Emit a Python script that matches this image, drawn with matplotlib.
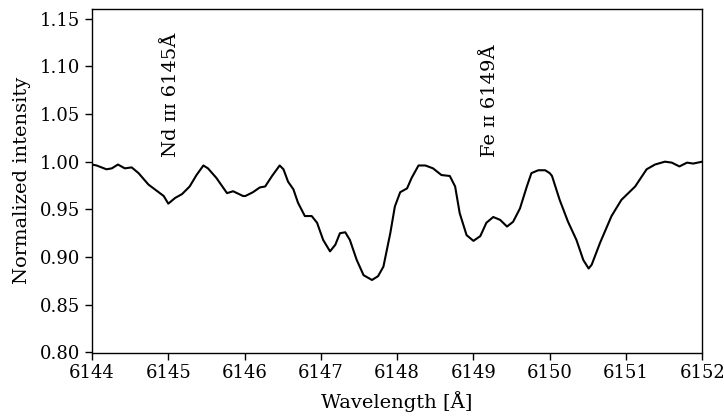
import numpy as np
import matplotlib
matplotlib.use('Agg')
import matplotlib.pyplot as plt

plt.rcParams['font.family'] = ['DejaVu Serif', 'DejaVu Sans']
plt.rcParams['mathtext.fontset'] = 'dejavuserif'

#Spectrum
wave = [6144.00, 6144.06, 6144.19, 6144.26, 6144.34, 6144.43, 6144.52, 6144.61,
        6144.74, 6144.89, 6144.94, 6145.00, 6145.09, 6145.18, 6145.28, 6145.37,
        6145.46, 6145.52, 6145.63, 6145.77, 6145.85, 6145.98, 6146.01, 6146.11,
        6146.20, 6146.27, 6146.36, 6146.46, 6146.51, 6146.57, 6146.64, 6146.70,
        6146.79, 6146.88, 6146.95, 6147.03, 6147.12, 6147.19, 6147.25, 6147.32,
        6147.38, 6147.47, 6147.56, 6147.67, 6147.75, 6147.82, 6147.91, 6147.97,
        6148.04, 6148.13, 6148.19, 6148.28, 6148.37, 6148.47, 6148.58, 6148.69,
        6148.76, 6148.82, 6148.91, 6149.00, 6149.09, 6149.17, 6149.26, 6149.35,
        6149.44, 6149.52, 6149.61, 6149.70, 6149.76, 6149.85, 6149.94, 6150.00,
        6150.03, 6150.13, 6150.24, 6150.35, 6150.44, 6150.51, 6150.55, 6150.66,
        6150.81, 6150.94, 6151.12, 6151.27, 6151.38, 6151.51, 6151.60, 6151.70,
        6151.80, 6151.88, 6152.00]
flux = [0.997, 0.996, 0.992, 0.993, 0.997, 0.993, 0.994, 0.988,
        0.976, 0.967, 0.964, 0.956, 0.962, 0.966, 0.974, 0.986,
        0.996, 0.993, 0.983, 0.967, 0.969, 0.964, 0.964, 0.968,
        0.973, 0.974, 0.985, 0.996, 0.992, 0.979, 0.971, 0.957,
        0.943, 0.943, 0.936, 0.918, 0.906, 0.913, 0.925, 0.926,
        0.918, 0.897, 0.881, 0.876, 0.880, 0.890, 0.925, 0.953,
        0.968, 0.972, 0.983, 0.996, 0.996, 0.993, 0.986, 0.985,
        0.974, 0.946, 0.923, 0.917, 0.922, 0.936, 0.942, 0.939,
        0.932, 0.937, 0.951, 0.974, 0.988, 0.991, 0.991, 0.988,
        0.985, 0.960, 0.937, 0.918, 0.897, 0.888, 0.892, 0.915,
        0.943, 0.960, 0.974, 0.992, 0.997, 1.000, 0.999, 0.995,
        0.999, 0.998, 1.000]

#Line identifications
line_names = ['Nd \u026a\u026a\u026a 6145\u00c5', 'Fe \u026a\u026a 6149\u00c5']
line_pos = [6145.04, 6149.22]

fig = plt.figure(figsize=(7.24, 4.16), dpi=100)
ax = fig.add_axes([92/724, 1-352.5/416, 610.3/724, 343.5/416])

ax.plot(wave, flux, color='k', lw=1.5)

for name, pos in zip(line_names, line_pos):
    ax.text(pos, 1.005, name, rotation=90, ha='center', va='bottom', fontsize=14)

ax.set_xlim(6144, 6152)
ax.set_ylim(0.80, 1.16)
ax.set_yticks(np.arange(0.80, 1.151, 0.05))
ax.set_xticks(np.arange(6144, 6153, 1))
ax.yaxis.set_major_formatter(plt.FormatStrFormatter('%.2f'))
ax.tick_params(direction='out', length=5, width=1, labelsize=13)
for s in ax.spines.values():
    s.set_linewidth(1)

ax.set_xlabel('Wavelength [\u00c5]', fontsize=14, labelpad=6)
ax.set_ylabel('Normalized intensity', fontsize=14, labelpad=6)

plt.savefig('out.png', dpi=100)
plt.close()
